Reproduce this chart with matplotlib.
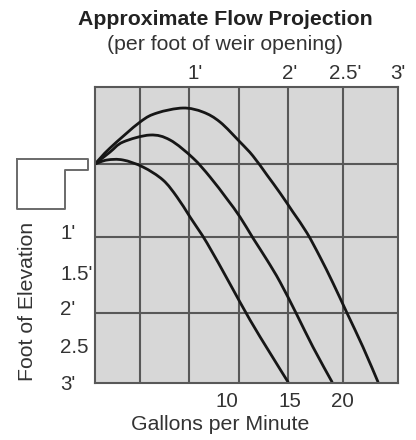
import matplotlib
matplotlib.use("Agg")
import matplotlib.pyplot as plt
from matplotlib.path import Path
from matplotlib.patches import PathPatch

# ---- data (distances in feet; y = drop below weir lip, positive downward) ----
curve_high_x = [0, 0.149, 0.446, 0.614, 0.871, 1.069, 1.238, 1.436, 1.564, 1.703, 1.832, 1.960,
                2.099, 2.228, 2.356, 2.495, 2.653, 2.802]
curve_high_y = [0, -0.219, -0.575, -0.699, -0.767, -0.712, -0.575, -0.301, -0.110, 0.151, 0.397, 0.658,
                0.945, 1.274, 1.630, 2.041, 2.507, 2.986]

curve_mid_x = [0, 0.149, 0.277, 0.545, 0.743, 0.970, 1.139, 1.307, 1.436, 1.564, 1.703, 1.832,
               2.0, 2.158, 2.347]
curve_mid_y = [0, -0.164, -0.301, -0.397, -0.329, -0.082, 0.178, 0.479, 0.726, 1.014, 1.315, 1.616,
               2.068, 2.507, 2.986]

curve_low_x = [0, 0.119, 0.277, 0.475, 0.673, 0.812, 0.941, 1.109, 1.337, 1.535, 1.733, 1.911]
curve_low_y = [0, -0.055, -0.055, 0.041, 0.219, 0.452, 0.726, 1.082, 1.644, 2.137, 2.589, 2.986]

grid_x = [0.446, 0.931, 1.426, 1.911, 2.455]
grid_y = [0.0, 1.0, 2.04]

top_tick_pos = [0.99, 1.93, 2.475, 3.0]
top_tick_labels = ["1'", "2'", "2.5'", "3'"]

bottom_tick_pos = [1.307, 1.931, 2.446]
bottom_tick_labels = ["10", "15", "20"]

left_tick_pos = [0.93, 1.48, 1.97, 2.48, 2.99]
left_tick_labels = ["1'", "1.5'", "2'", "2.5", "3'"]

weir_x = [-0.772, -0.069, -0.069, -0.297, -0.297, -0.772, -0.772]
weir_y = [-0.068, -0.068, 0.082, 0.082, 0.616, 0.616, -0.068]

plt.rcParams['font.family'] = ['Liberation Sans', 'DejaVu Sans']
TXT = '#333333'
FS = 15.3
TFS = 14.8


def smooth_path(xs, ys):
    """Catmull-Rom through the read points, drawn as cubic Bezier segments."""
    pts = list(zip(xs, ys))
    verts = [pts[0]]
    codes = [Path.MOVETO]
    n = len(pts)
    for i in range(n - 1):
        p0 = pts[i - 1] if i > 0 else pts[i]
        p1 = pts[i]
        p2 = pts[i + 1]
        p3 = pts[i + 2] if i + 2 < n else pts[i + 1]
        c1 = (p1[0] + (p2[0] - p0[0]) / 6, p1[1] + (p2[1] - p0[1]) / 6)
        c2 = (p2[0] - (p3[0] - p1[0]) / 6, p2[1] - (p3[1] - p1[1]) / 6)
        verts += [c1, c2, p2]
        codes += [Path.CURVE4] * 3
    return Path(verts, codes)


fig = plt.figure(figsize=(4.16, 4.40), dpi=100)
ax = fig.add_axes([95/416, 57/440, 303/416, 296/440])
ax.set_facecolor('#d7d7d7')
ax.set_xlim(0, 3.0)
ax.set_ylim(3.0, -1.055)

ax.set_xticks(grid_x, minor=True)
ax.set_yticks(grid_y, minor=True)
ax.grid(which='minor', color='#585858', linewidth=1.5)
ax.grid(which='major', visible=False)
ax.set_axisbelow(True)

for s in ax.spines.values():
    s.set_color('#585858')
    s.set_linewidth(1.5)

for xs, ys in [(curve_high_x, curve_high_y), (curve_mid_x, curve_mid_y), (curve_low_x, curve_low_y)]:
    ax.add_patch(PathPatch(smooth_path(xs, ys), facecolor='none', edgecolor='#161616',
                           linewidth=2.0, capstyle='round', joinstyle='round'))

ax.plot(weir_x, weir_y, color='#6a6a6a', linewidth=1.4, clip_on=False)

ax.set_xticks(bottom_tick_pos, bottom_tick_labels)
ax.tick_params(axis='x', which='both', length=0, labelsize=TFS, labelcolor=TXT, pad=6.5)
ax.set_yticks(left_tick_pos, left_tick_labels)
ax.tick_params(axis='y', which='both', length=0, labelsize=TFS, labelcolor=TXT, pad=25)
for lab in ax.get_yticklabels():
    lab.set_horizontalalignment('left')

sec = ax.secondary_xaxis('top')
sec.set_xticks(top_tick_pos, top_tick_labels)
sec.tick_params(length=0, labelsize=TFS, labelcolor=TXT, pad=3)
sec.spines['top'].set_visible(False)

ax.set_xlabel('Gallons per Minute', fontsize=FS, color=TXT)
ax.xaxis.set_label_coords(0.4125, -0.108)
ax.set_ylabel('Foot of Elevation', fontsize=FS, color=TXT)
ax.yaxis.set_label_coords(-0.191, 0.274)

fig.text(225/416, 1 - 25/440, 'Approximate Flow Projection', ha='center', va='baseline',
         fontsize=FS, fontweight='bold', color='#222222')
fig.text(225/416, 1 - 50/440, '(per foot of weir opening)', ha='center', va='baseline',
         fontsize=FS, color=TXT)

fig.savefig('out.png', dpi=100)
